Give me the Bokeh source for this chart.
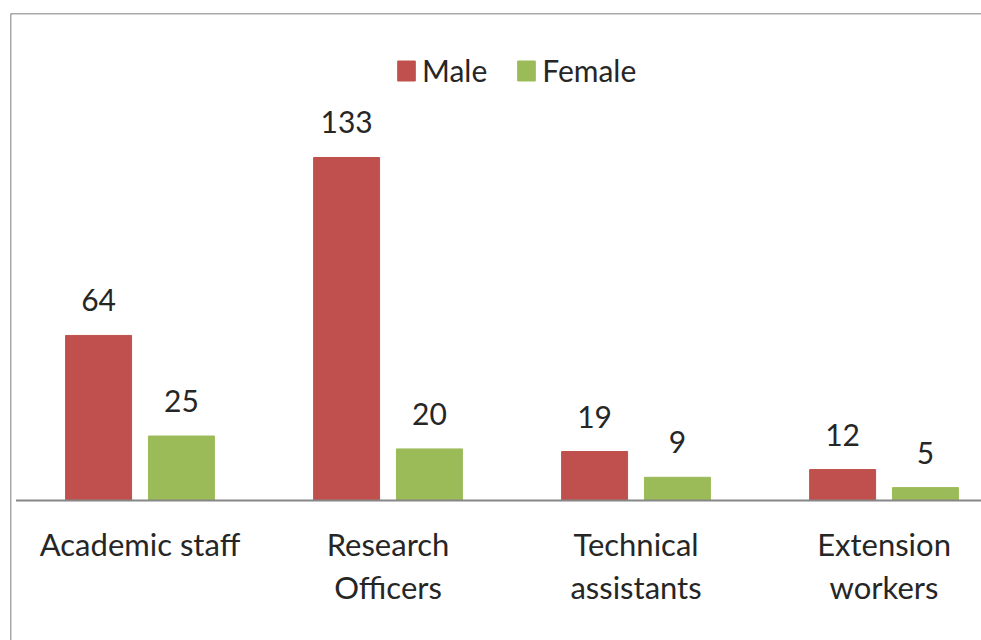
from bokeh.plotting import figure
from bokeh.models import Range1d, ColumnDataSource, Span, Legend, LegendItem
from bokeh.transform import dodge
from bokeh.core.properties import value
from bokeh.embed import file_html
from bokeh.resources import INLINE

categories = ["Academic staff", "Research\nOfficers", "Technical\nassistants", "Extension\nworkers"]
male = [64, 133, 19, 12]
female = [25, 20, 9, 5]
series = ["Male", "Female"]

MALE_C = "#C0504D"
FEMALE_C = "#9BBB59"
TEXT_C = "#262626"
FONT = "Lato"

x = list(range(len(categories)))
src = ColumnDataSource(dict(
    x=x, cat=categories, male=male, female=female,
    male_lbl=[str(v) for v in male], female_lbl=[str(v) for v in female],
    zero=[0] * len(x),
))

xr = Range1d(-0.5222, 3.393)
yr = Range1d(-54.28, 188.83)

p = figure(width=981, height=640, output_backend="svg", toolbar_location=None,
           x_range=xr, y_range=yr, x_axis_type=None, y_axis_type=None,
           min_border_left=10, min_border_top=13, min_border_right=0, min_border_bottom=0)
p.grid.visible = False
p.outline_line_color = None
p.background_fill_color = "white"
p.border_fill_color = "white"

off = 0.167
bw = 0.266
r_m = p.vbar(x=dodge('x', -off), top='male', width=bw, source=src,
             fill_color=MALE_C, line_color=MALE_C)
r_f = p.vbar(x=dodge('x', off), top='female', width=bw, source=src,
             fill_color=FEMALE_C, line_color=FEMALE_C)

lbl_kw = dict(text_align='center', text_baseline='alphabetic', y_offset=-35,
              text_font=value(FONT), text_font_size="30px", text_color=TEXT_C, source=src)
p.text(x=dodge('x', -off), y='male', text='male_lbl', **lbl_kw)
p.text(x=dodge('x', off), y='female', text='female_lbl', **lbl_kw)

# axis line
p.segment(x0=-0.5, x1=len(categories) - 0.5, y0=0, y1=0, line_color="#868686", line_width=2)

# category labels
p.text(x='x', y='zero', text='cat', text_align='center', text_baseline='top', y_offset=24,
       text_line_height=1.15, text_font=value(FONT), text_font_size="31px",
       text_color=TEXT_C, source=src)

# border (top and left)
p.add_layout(Span(location=yr.end, dimension='width', line_color="#555555", line_width=1.5))
p.add_layout(Span(location=xr.start, dimension='height', line_color="#555555", line_width=1.5))

legend = Legend(items=[LegendItem(label=series[0], renderers=[r_m]),
                       LegendItem(label=series[1], renderers=[r_f])],
                orientation="horizontal", location=(385, 552),
                glyph_width=22, glyph_height=25, label_standoff=5, spacing=28,
                padding=0, margin=0, border_line_color=None, background_fill_alpha=0,
                label_text_font=FONT, label_text_font_size="30px", label_text_color=TEXT_C)
p.add_layout(legend)

open("out.html", "w").write(file_html(p, INLINE))
